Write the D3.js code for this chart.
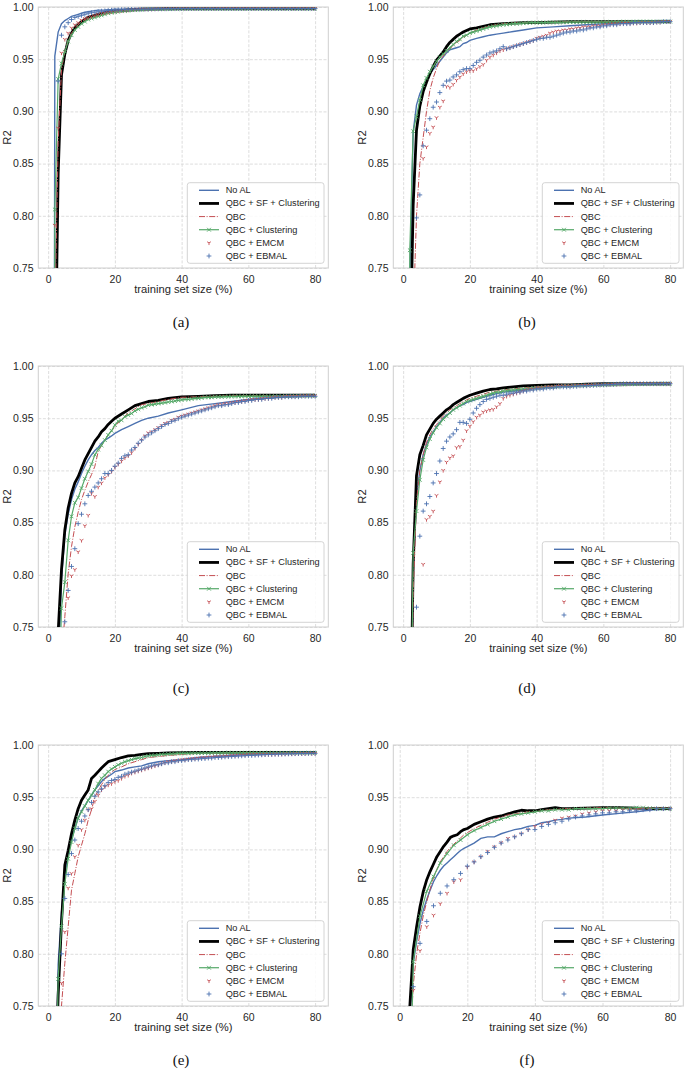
<!DOCTYPE html>
<html><head><meta charset="utf-8">
<script src="https://cdn.jsdelivr.net/npm/d3@7"></script>
<style>body{margin:0;background:#fff}svg{display:block}</style>
</head><body><svg id="c" width="685" height="1077"></svg>
<script>
// ---------- labels ----------
const seriesNames = ["No AL","QBC + SF + Clustering","QBC","QBC + Clustering","QBC + EMCM","QBC + EBMAL"];
const xTicks = [0,20,40,60,80];
const yTicks = [0.75,0.80,0.85,0.90,0.95,1.00];
const captions = ["(a)","(b)","(c)","(d)","(e)","(f)"];

// ---------- x grids ----------
const xFull = [1,2,3,4,5,6,7,8,9,10,11,12,13,14,15,16,17,18,19,20,21,22,23,24,25,26,27,28,29,30,31,32,33,34,35,36,37,38,39,40,41,42,43,44,45,46,47,48,49,50,51,52,53,54,55,56,57,58,59,60,61,62,63,64,65,66,67,68,69,70,71,72,73,74,75,76,77,78,79,80];
const xLine = [1,2,3,4,5,6,7,8,9,10,11,12,13,14,15,16,17,18,19,20,22,24,26,28,30,33,36,40,45,50,55,60,65,70,75,80];
const xEven = [2,4,6,8,10,12,14,16,18,20,22,24,26,28,30,32,34,36,38,40,42,44,46,48,50,52,54,56,58,60,62,64,66,68,70,72,74,76,78,80];
const xLineF = [2,3,4,5,6,7,8,9,10,11,12,13,14,15,16,17,18,19,20,22,24,26,28,30,32,34,36,38,40,42,44,46,48,50,55,60,65,70,75,80];

// ---------- panel (a) ----------
const a_noal = [-1,.953,.976,.984,.987,.989,.991,.992,.993,.994,.995,.9955,.996,.9965,.997,.997,.9972,.9975,.9977,.998,.998,.9982,.9983,.9984,.9985,.9985,.9986,.9986,.9986,.9986,.9986,.9986,.9986,.9986,.9986,.9986];
const a_sf   = [-1,.62,.84,.935,.955,.968,.975,.980,.983,.986,.988,.990,.991,.992,.993,.994,.9945,.995,.9955,.996,.9965,.997,.9975,.998,.998,.9982,.9984,.9985,.9985,.9985,.9985,.9985,.9985,.9985,.9985,.9985];
const a_qbc  = [-1,.70,.87,.94,.958,.968,.975,.979,.983,.986,.988,.989,.990,.991,.992,.993,.994,.9945,.995,.9955,.996,.9965,.997,.9975,.998,.998,.9982,.9985,.9985,.9985,.9985,.9985,.9985,.9985,.9985,.9985];
const a_clu = [-1,.806,.931,.946,.957,.967,.973,.978,.981,.984,
 .986,.988,.989,.990,.991,.992,.993,.994,.9945,.995,
 .9955,.996,.9962,.9965,.997,.997,.9972,.9975,.9977,.998,
 .998,.998,.998,.998,.998,.998,.998,.9982,.9982,.9982,
 .9983,.9983,.9983,.9983,.9983,.9983,.9983,.9983,.9983,.9983,
 .9983,.9983,.9983,.9983,.9983,.9983,.9983,.9983,.9983,.9983,
 .9984,.9984,.9984,.9984,.9984,.9984,.9984,.9984,.9984,.9984,
 .9984,.9984,.9984,.9984,.9984,.9984,.9984,.9984,.9984,.9984];
const a_emcm = [.45,.791,.884,.956,.969,.975,.980,.983,.985,.9875,
 .989,.990,.991,.992,.993,.994,.9945,.995,.9955,.996,
 .9962,.9965,.997,.997,.9975,.9977,.998,.998,.998,.998,
 .998,.9982,.9982,.9982,.9983,.9983,.9983,.9984,.9984,.9984,
 .9984,.9984,.9984,.9984,.9984,.9984,.9984,.9984,.9984,.9984,
 .9985,.9985,.9985,.9985,.9985,.9985,.9985,.9985,.9985,.9985,
 .9985,.9985,.9985,.9985,.9985,.9985,.9985,.9985,.9985,.9985,
 .9985,.9985,.9985,.9985,.9985,.9985,.9985,.9985,.9985,.9985];
const a_ebmal = [.5,.70,.929,.973,.981,.985,.988,.990,.991,.992,
 .993,.994,.9945,.995,.9955,.996,.9963,.9966,.997,.997,
 .9972,.9974,.9976,.9978,.998,.998,.998,.998,.998,.998,
 .9982,.9982,.9983,.9983,.9983,.9984,.9984,.9984,.9985,.9985,
 .9985,.9985,.9985,.9985,.9985,.9985,.9985,.9985,.9985,.9985,
 .9985,.9985,.9985,.9985,.9985,.9985,.9985,.9985,.9985,.9985,
 .9985,.9985,.9985,.9985,.9985,.9985,.9985,.9985,.9985,.9985,
 .9985,.9985,.9985,.9985,.9985,.9985,.9985,.9985,.9985,.9985];

// ---------- panel (b) ----------
const b_noal = [-1,.74,.88,.906,.917,.924,.930,.936,.940,.944,.948,.952,.956,.959,.960,.961,.962,.965,.966,.968,.970,.9715,.973,.974,.975,.9765,.978,.980,.981,.982,.983,.984,.9845,.985,.9855,.986];
const b_sf   = [-1,.65,.81,.882,.905,.919,.928,.936,.943,.949,.953,.957,.962,.966,.969,.972,.974,.976,.9775,.979,.980,.9815,.983,.9835,.984,.9845,.985,.985,.9855,.986,.986,.986,.986,.986,.986,.986];
const b_qbc  = [-1,.5,.70,.80,.85,.875,.90,.92,.932,.941,.949,.953,.957,.960,.963,.966,.968,.971,.973,.975,.978,.980,.982,.983,.984,.9845,.985,.985,.9855,.986,.986,.986,.986,.986,.986,.986];
const b_clu = [-1,.767,.881,.895,.911,.925,.932,.938,.943,.948,
 .952,.955,.958,.961,.964,.967,.969,.972,.973,.975,
 .976,.977,.978,.979,.980,.981,.9815,.982,.9825,.983,
 .9833,.9836,.984,.984,.9843,.9845,.9847,.985,.985,.985,
 .985,.985,.9852,.9852,.9852,.9853,.9853,.9854,.9854,.9855,
 .9855,.9855,.9855,.9855,.9855,.9855,.9855,.9855,.9855,.9855,
 .9856,.9856,.9857,.9857,.9858,.9858,.9858,.9859,.9859,.986,
 .986,.986,.986,.986,.986,.986,.986,.986,.986,.986];
const b_emcm = [.3,.5,.6,.7,.74,.855,.866,.879,.885,.894,
 .904,.910,.924,.923,.926,.930,.933,.936,.938,.939,
 .939,.941,.943,.945,.949,.952,.954,.956,.958,.959,
 .960,.961,.962,.963,.964,.965,.966,.967,.968,.970,
 .971,.972,.973,.975,.976,.977,.977,.978,.978,.979,
 .979,.980,.980,.981,.981,.981,.982,.982,.982,.983,
 .983,.9835,.984,.984,.984,.9845,.9845,.9845,.9845,.9845,
 .985,.985,.985,.985,.985,.9855,.9855,.986,.986,.986];
const b_ebmal = [.3,.5,.7,.798,.820,.867,.882,.893,.904,.909,
 .918,.925,.929,.930,.933,.935,.938,.940,.941,.941,
 .944,.947,.949,.952,.954,.956,.957,.958,.960,.962,
 .960,.961,.962,.963,.964,.965,.966,.967,.968,.969,
 .970,.970,.971,.971,.972,.973,.974,.975,.976,.976,
 .977,.977,.978,.978,.979,.980,.980,.981,.981,.982,
 .982,.983,.983,.983,.984,.984,.984,.984,.985,.985,
 .985,.985,.985,.985,.985,.9855,.9855,.986,.986,.986];

// ---------- panel (c) ----------
const c_noal = [-1,.50,.70,.795,.838,.858,.872,.882,.889,.897,.904,.910,.915,.919,.922,.926,.929,.931,.933,.9355,.939,.942,.945,.948,.950,.952,.955,.958,.962,.964,.966,.968,.969,.970,.971,.971];
const c_sf   = [-1,.6,.745,.805,.843,.864,.878,.888,.894,.902,.910,.916,.922,.928,.932,.937,.940,.944,.947,.950,.954,.958,.962,.964,.966,.967,.969,.9705,.971,.9715,.972,.972,.972,.972,.972,.972];
const c_qbc  = [-1,.5,.65,.72,.76,.801,.827,.846,.860,.872,.881,.889,.896,.904,.918,.924,.929,.934,.938,.942,.949,.955,.959,.963,.964,.966,.968,.970,.9705,.971,.9715,.9715,.9715,.9715,.9715,.9715];
const c_clu = [-1,.5,.65,.768,.793,.833,.856,.869,.874,.883,
 .892,.899,.906,.915,.920,.924,.929,.934,.938,.9435,
 .947,.948,.9515,.953,.9545,.957,.9585,.960,.961,.9625,
 .963,.9635,.964,.9645,.965,.9655,.966,.9665,.967,.9675,
 .968,.968,.9685,.969,.969,.9695,.970,.970,.970,.9705,
 .9705,.9705,.9707,.9707,.9708,.9708,.9709,.9709,.971,.971,
 .971,.971,.971,.971,.971,.971,.971,.971,.971,.971,
 .9712,.9712,.9713,.9713,.9714,.9714,.9715,.9715,.9715,.9715];
const c_emcm = [.3,.5,.6,.7,.72,.778,.799,.805,.822,.833,
 .847,.857,.878,.875,.884,.888,.893,.896,.899,.903,
 .906,.909,.912,.914,.917,.921,.925,.929,.933,.936,
 .937,.939,.941,.943,.945,.946,.948,.949,.951,.952,
 .953,.954,.955,.956,.957,.958,.959,.960,.961,.962,
 .963,.963,.964,.964,.965,.965,.966,.966,.967,.967,
 .968,.968,.968,.969,.969,.969,.970,.970,.970,.970,
 .971,.971,.971,.971,.971,.9715,.9715,.9715,.9715,.9715];
const c_ebmal = [.3,.5,.6,.7,.755,.785,.808,.825,.849,.858,
 .868,.876,.880,.884,.888,.892,.897,.897,.900,.904,
 .907,.9115,.914,.915,.9195,.922,.926,.929,.932,.934,
 .936,.938,.940,.942,.944,.945,.947,.948,.9495,.951,
 .952,.953,.954,.955,.956,.957,.958,.959,.960,.961,
 .962,.962,.963,.963,.964,.965,.965,.966,.966,.967,
 .967,.968,.968,.968,.969,.969,.969,.970,.970,.970,
 .9705,.9705,.9705,.9705,.9705,.971,.971,.971,.971,.971];

// ---------- panel (d) ----------
const d_noal = [-1,.55,.80,.875,.90,.915,.925,.932,.937,.942,.946,.950,.953,.955,.958,.960,.962,.963,.965,.966,.968,.970,.972,.9735,.975,.976,.977,.979,.980,.981,.9815,.982,.9825,.983,.983,.983];
const d_sf   = [-1,.6,.81,.895,.915,.924,.934,.9395,.945,.949,.952,.955,.958,.960,.963,.965,.967,.969,.9705,.972,.974,.976,.9775,.978,.979,.980,.981,.9815,.982,.982,.9825,.983,.983,.983,.983,.983];
const d_qbc  = [-1,.55,.78,.87,.90,.915,.927,.934,.940,.944,.948,.952,.955,.958,.960,.962,.964,.966,.9675,.969,.971,.973,.975,.976,.977,.978,.979,.980,.981,.981,.9815,.982,.9825,.983,.983,.983];
const d_clu = [-1,.55,.821,.861,.891,.910,.922,.930,.936,.941,
 .945,.949,.952,.955,.958,.960,.962,.964,.966,.967,
 .968,.969,.970,.971,.972,.973,.974,.975,.975,.976,
 .9763,.9766,.977,.9773,.9776,.978,.978,.9785,.979,.979,
 .9793,.9796,.980,.980,.980,.9803,.9806,.981,.981,.981,
 .9812,.9813,.9814,.9815,.9816,.9817,.9818,.9819,.982,.982,
 .9822,.9822,.9823,.9824,.9825,.9825,.9826,.9826,.9827,.9827,
 .9828,.9828,.9829,.9829,.983,.983,.983,.983,.983,.983];
const d_emcm = [.3,.5,.6,.7,.74,.810,.853,.856,.861,.876,
 .889,.900,.908,.912,.914,.922,.923,.929,.938,.9425,
 .9467,.951,.953,.956,.957,.958,.9585,.961,.964,.969,
 .971,.972,.973,.974,.975,.976,.977,.978,.978,.979,
 .979,.9795,.980,.980,.980,.9805,.981,.981,.981,.981,
 .9812,.9814,.9815,.9816,.9817,.9818,.9819,.982,.982,.982,
 .9822,.9823,.9824,.9825,.9826,.9827,.9828,.9829,.983,.983,
 .983,.983,.983,.983,.983,.983,.983,.983,.983,.983];
const d_ebmal = [.3,.5,.6,.769,.837,.861,.868,.875,.888,.897,
 .909,.921,.928,.932,.935,.939,.946,.946,.945,.949,
 .955,.9595,.963,.966,.968,.969,.970,.971,.972,.972,
 .973,.974,.974,.975,.975,.976,.976,.977,.977,.978,
 .978,.978,.979,.979,.979,.980,.980,.980,.980,.980,
 .9805,.9805,.981,.981,.981,.9812,.9814,.9816,.9818,.982,
 .982,.9822,.9824,.9826,.9828,.983,.983,.983,.983,.983,
 .983,.983,.983,.983,.983,.983,.983,.983,.983,.983];

// ---------- panel (e) ----------
const e_noal = [-1,.62,.79,.84,.875,.895,.91,.92,.93,.937,.942,.947,.952,.957,.961,.965,.968,.970,.972,.9745,.976,.978,.979,.980,.982,.984,.985,.986,.988,.989,.990,.991,.9915,.992,.992,.992];
const e_sf   = [-1,.65,.76,.83,.885,.899,.915,.928,.939,.947,.952,.957,.968,.971,.9745,.978,.981,.984,.985,.986,.988,.9895,.990,.991,.9917,.992,.9925,.9927,.993,.993,.993,.993,.993,.993,.993,.993];
const e_qbc  = [-1,.5,.70,.75,.791,.826,.861,.877,.893,.904,.915,.928,.938,.9505,.956,.962,.967,.971,.974,.9765,.979,.982,.984,.986,.988,.989,.990,.991,.992,.992,.9925,.9925,.9925,.9925,.9925,.9925];
const e_clu = [-1,.6,.776,.826,.867,.891,.907,.920,.930,.936,
 .9415,.947,.952,.957,.963,.968,.971,.9745,.977,.979,
 .981,.9825,.984,.985,.986,.987,.9875,.988,.989,.9895,
 .990,.990,.9905,.991,.991,.9913,.9915,.9917,.992,.992,
 .992,.992,.9922,.9922,.9922,.9923,.9923,.9923,.9924,.9924,
 .9924,.9924,.9925,.9925,.9925,.9925,.9925,.9925,.9925,.9925,
 .9925,.9925,.9925,.9925,.9925,.9925,.9925,.9925,.9925,.9925,
 .9925,.9925,.9925,.9925,.9925,.9925,.9925,.9925,.9925,.9925];
const e_emcm = [.3,.5,.6,.772,.821,.863,.877,.893,.904,.919,
 .928,.938,.939,.946,.952,.957,.960,.9617,.963,.965,
 .966,.968,.970,.971,.973,.974,.975,.976,.977,.978,
 .979,.980,.981,.982,.983,.984,.984,.985,.985,.986,
 .986,.9865,.987,.987,.9875,.988,.988,.9885,.9885,.989,
 .989,.989,.9895,.9895,.990,.990,.990,.9905,.9905,.991,
 .991,.991,.991,.991,.991,.991,.991,.9912,.9912,.9912,
 .9915,.9915,.9915,.9917,.9917,.9918,.9918,.992,.992,.992];
const e_ebmal = [.3,.5,.70,.80,.853,.876,.896,.909,.920,.927,
 .932,.938,.945,.951,.955,.958,.961,.964,.966,.967,
 .969,.970,.972,.973,.974,.975,.976,.977,.978,.979,
 .980,.981,.981,.982,.983,.983,.984,.984,.985,.985,
 .9855,.986,.986,.9865,.9865,.987,.987,.9875,.9875,.988,
 .988,.9883,.9886,.9888,.989,.9892,.9894,.9896,.9898,.990,
 .990,.9902,.9904,.9906,.9908,.991,.991,.9912,.9912,.9914,
 .9914,.9915,.9916,.9917,.9918,.9918,.9919,.992,.992,.992];

// ---------- panel (f) ----------
const f_noal = [.55,.74,.791,.812,.829,.842,.852,.861,.869,.875,.880,.884,.887,.890,.893,.896,.899,.901,.9026,.906,.9106,.912,.912,.915,.917,.919,.920,.922,.923,.9255,.9265,.928,.9288,.930,.931,.933,.9345,.936,.938,.9384];
const f_sf   = [.60,.75,.804,.826,.845,.860,.871,.879,.886,.893,.898,.903,.907,.9115,.913,.914,.917,.919,.920,.924,.9265,.929,.931,.932,.934,.936,.9375,.937,.937,.938,.939,.940,.939,.939,.9395,.940,.940,.9395,.939,.939];
const f_qbc  = [.5,.70,.77,.80,.82,.837,.85,.862,.873,.881,.888,.893,.898,.902,.905,.908,.911,.914,.916,.92,.923,.926,.929,.931,.933,.934,.935,.936,.936,.937,.938,.938,.939,.939,.9395,.940,.9395,.939,.939,.939];
const f_clu = [.5,.7925,.836,.860,.874,.887,.896,.904,.909,.914,
 .918,.921,.924,.927,.929,.931,.933,.934,.935,.936,
 .937,.937,.938,.938,.938,.939,.939,.939,.939,.939,
 .9395,.9395,.9395,.9395,.940,.940,.9395,.939,.939,.939];
const f_emcm = [.5,.765,.803,.826,.837,.848,.858,.869,.871,.883,
 .888,.893,.898,.9025,.9065,.9105,.912,.915,.919,.922,
 .924,.9255,.928,.930,.931,.932,.934,.935,.936,.937,
 .937,.937,.938,.938,.938,.939,.939,.939,.939,.939];
const f_ebmal = [.5,.7685,.810,.831,.846,.858,.865,.871,.877,.884,
 .888,.893,.897,.902,.906,.909,.912,.915,.919,.919,
 .922,.924,.9255,.927,.929,.931,.932,.933,.934,.935,
 .935,.936,.936,.937,.937,.938,.938,.939,.939,.939];

// ---------- assemble ----------
const panels = [
  {xl:xLine, xm:xFull, noal:a_noal, sf:a_sf, qbc:a_qbc, clu:a_clu, emcm:a_emcm, ebmal:a_ebmal, xdom:[-2.95,83.95]},
  {xl:xLine, xm:xFull, noal:b_noal, sf:b_sf, qbc:b_qbc, clu:b_clu, emcm:b_emcm, ebmal:b_ebmal, xdom:[-2.95,83.95]},
  {xl:xLine, xm:xFull, noal:c_noal, sf:c_sf, qbc:c_qbc, clu:c_clu, emcm:c_emcm, ebmal:c_ebmal, xdom:[-2.95,83.95]},
  {xl:xLine, xm:xFull, noal:d_noal, sf:d_sf, qbc:d_qbc, clu:d_clu, emcm:d_emcm, ebmal:d_ebmal, xdom:[-2.95,83.95]},
  {xl:xLine, xm:xFull, noal:e_noal, sf:e_sf, qbc:e_qbc, clu:e_clu, emcm:e_emcm, ebmal:e_ebmal, xdom:[-2.95,83.95]},
  {xl:xLineF, xm:xEven, noal:f_noal, sf:f_sf, qbc:f_qbc, clu:f_clu, emcm:f_emcm, ebmal:f_ebmal, xdom:[-1.9,83.9]}
];

const BLUE="#4c72b0", RED="#c44e52", GREEN="#55a868", BLACK="#000000";
const FONT="'Liberation Sans', Arial, Helvetica, sans-serif";
const TXT="#262626", GRID="#d4d4d4", EDGE="#cfcfcf";
const cols=[{x0:38.3,x1:328.3,lab:6.7,cap:181},{x0:393.3,x1:683.3,lab:361.7,cap:527}];
const rows=[{y0:7,y1:268,cap:322},{y0:366,y1:627,cap:688},{y0:745,y1:1006,cap:1060}];

const plusP  = s=>`M${-s},0H${s}M0,${-s}V${s}`;
const timesP = s=>`M${-s},${-s}L${s},${s}M${-s},${s}L${s},${-s}`;
const triP   = s=>`M0,0V${s}M0,0L${-0.866*s},${-0.5*s}M0,0L${0.866*s},${-0.5*s}`;

const svg=d3.select("#c");
const defs=svg.append("defs");

panels.forEach((p,i)=>{
  const c=cols[i%2], r=rows[Math.floor(i/2)];
  const x=d3.scaleLinear().domain(p.xdom).range([c.x0,c.x1]);
  const y=d3.scaleLinear().domain([0.75,1.0]).range([r.y1,r.y0]);
  const g=svg.append("g");

  const ax=g.append("g").attr("transform",`translate(0,${r.y1})`)
    .call(d3.axisBottom(x).tickValues(xTicks).tickFormat(d3.format("d")).tickSize(-(r.y1-r.y0)).tickPadding(7.2));
  const ay=g.append("g").attr("transform",`translate(${c.x0},0)`)
    .call(d3.axisLeft(y).tickValues(yTicks).tickFormat(d3.format(".2f")).tickSize(-(c.x1-c.x0)).tickPadding(4.8));
  [ax,ay].forEach(a=>{
    a.select(".domain").remove();
    a.selectAll(".tick line").attr("stroke",GRID).attr("stroke-width",0.8).attr("stroke-dasharray","3,1.6");
    a.selectAll(".tick text").attr("fill",TXT).attr("font-family",FONT).attr("font-size",10.5);
  });

  g.append("rect").attr("x",c.x0).attr("y",r.y0).attr("width",c.x1-c.x0).attr("height",r.y1-r.y0)
    .attr("fill","none").attr("stroke",EDGE).attr("stroke-width",1);

  g.append("text").attr("x",(c.x0+c.x1)/2).attr("y",r.y1+25.3).attr("text-anchor","middle")
    .attr("font-family",FONT).attr("font-size",11.2).attr("fill",TXT).text("training set size (%)");
  g.append("text").attr("transform",`translate(${c.lab},${(r.y0+r.y1)/2}) rotate(-90)`)
    .attr("text-anchor","middle").attr("dominant-baseline","central")
    .attr("font-family",FONT).attr("font-size",11.2).attr("fill",TXT).text("R2");

  const cid="clip"+i;
  defs.append("clipPath").attr("id",cid).append("rect")
    .attr("x",c.x0).attr("y",r.y0).attr("width",c.x1-c.x0).attr("height",r.y1-r.y0);
  const pg=g.append("g").attr("clip-path",`url(#${cid})`);

  const line=(xs)=>d3.line().defined((d,k)=>d!=null&&xs[k]!=null).x((d,k)=>x(xs[k])).y(d=>y(d));

  pg.append("path").attr("d",line(p.xl)(p.noal)).attr("fill","none").attr("stroke",BLUE).attr("stroke-width",1.4);
  pg.append("path").attr("d",line(p.xl)(p.sf)).attr("fill","none").attr("stroke",BLACK).attr("stroke-width",2.8).attr("stroke-linejoin","round");
  pg.append("path").attr("d",line(p.xl)(p.qbc)).attr("fill","none").attr("stroke",RED).attr("stroke-width",1).attr("stroke-dasharray","6,1.6,1,1.6");
  pg.append("path").attr("d",line(p.xm)(p.clu)).attr("fill","none").attr("stroke",GREEN).attr("stroke-width",1.2);
  const mk=(vals,shape,col)=>{
    pg.append("g").selectAll("path").data(vals.map((v,k)=>[p.xm[k],v]).filter(d=>d[0]!=null&&d[1]!=null))
      .join("path").attr("transform",d=>`translate(${x(d[0])},${y(d[1])})`)
      .attr("d",shape).attr("fill","none").attr("stroke",col).attr("stroke-width",0.9);
  };
  mk(p.clu,timesP(1.9),GREEN);
  mk(p.emcm,triP(2.2),RED);
  mk(p.ebmal,plusP(2.4),BLUE);

  const lx=c.x1-141, ly=r.y1-85.3;
  const lg=g.append("g");
  lg.append("rect").attr("x",lx).attr("y",ly).attr("width",136.7).attr("height",80.6).attr("rx",2.5)
    .attr("fill","#fff").attr("fill-opacity",0.85).attr("stroke",EDGE).attr("stroke-width",0.9);
  const hx0=lx+11.7, hx1=lx+31.7, hxm=(hx0+hx1)/2;
  seriesNames.forEach((name,k)=>{
    const cy=r.y1-77.7+k*13.14;
    if(k===0) lg.append("line").attr("x1",hx0).attr("x2",hx1).attr("y1",cy).attr("y2",cy).attr("stroke",BLUE).attr("stroke-width",1.4);
    if(k===1) lg.append("line").attr("x1",hx0).attr("x2",hx1).attr("y1",cy).attr("y2",cy).attr("stroke",BLACK).attr("stroke-width",2.8);
    if(k===2) lg.append("line").attr("x1",hx0).attr("x2",hx1).attr("y1",cy).attr("y2",cy).attr("stroke",RED).attr("stroke-width",1).attr("stroke-dasharray","6,1.6,1,1.6");
    if(k===3){ lg.append("line").attr("x1",hx0).attr("x2",hx1).attr("y1",cy).attr("y2",cy).attr("stroke",GREEN).attr("stroke-width",1.2);
      lg.append("path").attr("transform",`translate(${hxm},${cy})`).attr("d",timesP(1.9)).attr("fill","none").attr("stroke",GREEN).attr("stroke-width",0.9); }
    if(k===4) lg.append("path").attr("transform",`translate(${hxm},${cy})`).attr("d",triP(2.2)).attr("fill","none").attr("stroke",RED).attr("stroke-width",0.9);
    if(k===5) lg.append("path").attr("transform",`translate(${hxm},${cy})`).attr("d",plusP(2.4)).attr("fill","none").attr("stroke",BLUE).attr("stroke-width",0.9);
    lg.append("text").attr("x",lx+38.4).attr("y",cy).attr("dominant-baseline","central")
      .attr("font-family",FONT).attr("font-size",9.2).attr("fill",TXT).text(name);
  });

  svg.append("text").attr("x",c.cap).attr("y",r.cap).attr("text-anchor","middle").attr("dominant-baseline","central")
    .attr("font-family","'Liberation Serif','DejaVu Serif',serif").attr("font-size",15).attr("fill","#111").text(captions[i]);
});
</script></body></html>
